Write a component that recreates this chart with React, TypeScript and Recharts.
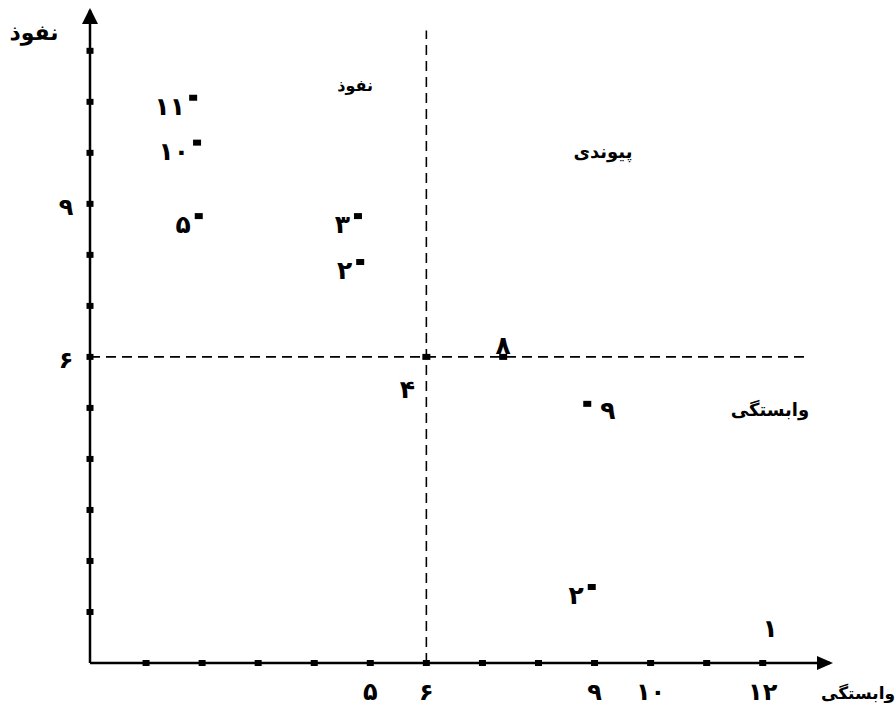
import { ScatterChart, Scatter, XAxis, YAxis, ReferenceLine, ReferenceDot } from 'recharts';

// variables: label, dependence (x), influence (y)
const pointLabels = ['۱۱', '۱۰', '۵', '۳', '۲', '۸', '۴', '۹', '۲', '۱'];
const dependence = [1.84, 1.91, 1.94, 4.78, 4.82, 7.37, 6, 8.87, 8.95, 12.13];
const influence = [11.08, 10.2, 8.76, 8.76, 7.86, 6, 6, 5.08, 1.49, 0.75];

const axisTicks = [1, 2, 3, 4, 5, 6, 7, 8, 9, 10, 11, 12];
const xLabeledTicks = [5, 6, 9, 10, 12];
const yLabeledTicks = [6, 9];

const meanDependence = 6;
const meanInfluence = 6;

const zoneNames = ['نفوذ', 'پیوندی', 'وابستگی'];
const zoneX = [4.73, 9.15, 12.13];
const zoneY = [11.33, 10.02, 4.96];

const FONT = '"DejaVu Sans", sans-serif';
const faDigits = ['۰', '۱', '۲', '۳', '۴', '۵', '۶', '۷', '۸', '۹'];
const toFa = (n: number) => String(n).replace(/\d/g, (d) => faDigits[Number(d)]);

const table = pointLabels.map((label, i) => ({
  x: dependence[i],
  y: influence[i],
  label,
  idx: i,
}));

// where each label sits relative to its square
const labelPlace = ['left', 'left', 'left', 'left', 'left', 'top', 'belowLeft', 'right', 'left', 'none'];
const zoneFontSize = [16, 18, 18];

const PointShape = (props: any) => {
  const { cx, cy, payload } = props;
  if (cx == null || cy == null) return null;
  const place = labelPlace[payload.idx];
  let tx = cx - 8;
  let ty = cy + 17;
  let anchor = 'end';
  if (place === 'top') {
    tx = cx;
    ty = cy - 3;
    anchor = 'middle';
  } else if (place === 'belowLeft') {
    tx = cx - 19;
    ty = cy + 41;
    anchor = 'middle';
  } else if (place === 'right') {
    tx = cx + 13;
    ty = cy + 15;
    anchor = 'start';
  } else if (place === 'none') {
    tx = cx;
    ty = cy + 12;
    anchor = 'middle';
  }
  return (
    <g>
      {place !== 'none' && <rect x={cx - 4} y={cy - 3} width={8} height={6} fill="#000" />}
      <text x={tx} y={ty} textAnchor={anchor} fontSize={25} fontWeight="bold" fontFamily={FONT} fill="#000">
        {payload.label}
      </text>
    </g>
  );
};

const XTick = (props: any) => {
  const { x, y, payload } = props;
  const v = payload.value;
  return (
    <g>
      <rect x={x - 3.5} y={y - 3} width={7} height={6} fill="#000" />
      {xLabeledTicks.includes(v) && (
        <text x={x} y={y + 37} textAnchor="middle" fontSize={24} fontWeight="bold" fontFamily={FONT} fill="#000">
          {toFa(v)}
        </text>
      )}
    </g>
  );
};

const YTick = (props: any) => {
  const { x, y, payload } = props;
  const v = payload.value;
  return (
    <g>
      <rect x={x - 3.5} y={y - 3} width={7} height={6} fill="#000" />
      {yLabeledTicks.includes(v) && (
        <text x={x - 24} y={y + 11} textAnchor="middle" fontSize={24} fontWeight="bold" fontFamily={FONT} fill="#000">
          {toFa(v)}
        </text>
      )}
    </g>
  );
};

const ZoneText = (i: number) => (props: any) => {
  const { cx, cy } = props;
  return (
    <text x={cx} y={cy + 6} textAnchor="middle" fontSize={zoneFontSize[i]} fontWeight="bold" fontFamily={FONT} fill="#000">
      {zoneNames[i]}
    </text>
  );
};

const ArrowRight = (props: any) => {
  const { cx, cy } = props;
  return <polygon points={`${cx + 3},${cy} ${cx - 13},${cy - 7} ${cx - 13},${cy + 7}`} fill="#000" />;
};

const ArrowUp = (props: any) => {
  const { cx, cy } = props;
  return <polygon points={`${cx},${cy - 2} ${cx - 8},${cy + 14} ${cx + 8},${cy + 14}`} fill="#000" />;
};

const App = () => {
  return (
    <div style={{ position: 'absolute', left: 0, top: 0, width: 895, height: 709, background: '#fff' }}>
      <ScatterChart width={895} height={709} margin={{ top: 10, right: 65, bottom: 0, left: 0 }}>
        <XAxis
          type="number"
          dataKey="x"
          domain={[0, 13.2]}
          ticks={axisTicks}
          interval={0}
          height={46}
          tickSize={0}
          tickMargin={0}
          tickLine={false}
          axisLine={{ stroke: '#000', strokeWidth: 2.5 }}
          tick={XTick}
          allowDataOverflow
        />
        <YAxis
          type="number"
          dataKey="y"
          domain={[0, 12.8]}
          ticks={axisTicks}
          interval={0}
          width={90}
          tickSize={0}
          tickMargin={0}
          tickLine={false}
          axisLine={{ stroke: '#000', strokeWidth: 2.5 }}
          tick={YTick}
          allowDataOverflow
        />
        <ReferenceLine
          segment={[{ x: meanDependence, y: 0 }, { x: meanDependence, y: 12.4 }]}
          stroke="#000"
          strokeWidth={1.6}
          strokeDasharray="10 6"
        />
        <ReferenceLine
          segment={[{ x: 0, y: meanInfluence }, { x: 12.75, y: meanInfluence }]}
          stroke="#000"
          strokeWidth={1.6}
          strokeDasharray="10 6"
        />
        {zoneNames.map((name, i) => (
          <ReferenceDot key={name} x={zoneX[i]} y={zoneY[i]} r={0} shape={ZoneText(i)} />
        ))}
        <ReferenceDot x={13.2} y={0} r={0} shape={ArrowRight} ifOverflow="visible" />
        <ReferenceDot x={0} y={12.8} r={0} shape={ArrowUp} ifOverflow="visible" />
        <Scatter data={table} shape={PointShape} isAnimationActive={false} />
      </ScatterChart>
      <svg width={895} height={709} style={{ position: 'absolute', left: 0, top: 0, pointerEvents: 'none' }}>
        <text x={34} y={40} textAnchor="middle" fontSize={22} fontWeight="bold" fontFamily={FONT} fill="#000">
          نفوذ
        </text>
        <text x={858} y={699} textAnchor="middle" fontSize={17} fontWeight="bold" fontFamily={FONT} fill="#000">
          وابستگی
        </text>
      </svg>
    </div>
  );
};

export default App;
